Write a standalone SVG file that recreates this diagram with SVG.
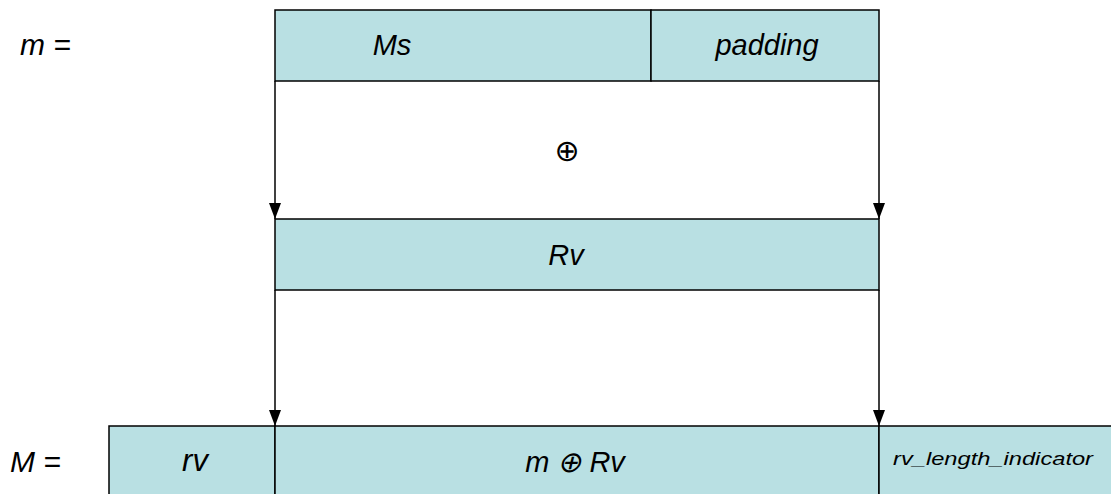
<svg xmlns="http://www.w3.org/2000/svg" width="1111" height="494" viewBox="0 0 1111 494">
<style>
.box{fill:#B9E0E3;stroke:#000;stroke-width:1.5}
.t{font-family:"Liberation Sans",Arial,sans-serif;font-style:italic;font-size:29px;fill:#000;text-anchor:middle}
.l{font-family:"Liberation Sans",Arial,sans-serif;font-style:italic;font-size:30px;fill:#000}
.c{stroke:#000;stroke-width:1.5;fill:none}
</style>
<defs>
<marker id="ah" markerWidth="16" markerHeight="12" refX="16" refY="6" orient="auto" markerUnits="userSpaceOnUse" viewBox="0 0 16 12">
<path d="M0,0 L16,6 L0,12 Z" fill="#000"/>
</marker>
</defs>
<rect width="1111" height="494" fill="#fff"/>
<text class="l" x="20" y="55">m =</text>
<text class="l" x="10" y="472">M =</text>
<g id="m">
<rect class="box" x="275" y="10" width="376" height="71"/>
<rect class="box" x="651" y="10" width="228" height="71"/>
<text class="t" x="392" y="55">Ms</text>
<text class="t" x="767" y="55">padding</text>
</g>
<g id="xor"><text x="567" y="161" text-anchor="middle" font-family="DejaVu Sans, sans-serif" font-size="30">⊕</text></g>
<g id="Rv">
<rect class="box" x="275" y="219" width="604" height="71"/>
<text class="t" x="566" y="265">Rv</text>
</g>
<g id="M">
<rect class="box" x="109" y="426" width="166" height="80"/>
<rect class="box" x="275" y="426" width="604" height="80"/>
<rect class="box" x="879" y="426" width="240" height="80"/>
<text class="t" x="195" y="471" style="font-size:31px">rv</text>
<text class="t" x="575" y="472">m ⊕ Rv</text>
<text x="893" y="465" font-family="'Liberation Sans',Arial,sans-serif" font-style="italic" font-size="19" textLength="200" lengthAdjust="spacingAndGlyphs">rv_length_indicator</text>
</g>
<g id="connectors">
<line class="c" x1="275" y1="81" x2="275" y2="219" marker-end="url(#ah)"/>
<line class="c" x1="879" y1="81" x2="879" y2="219" marker-end="url(#ah)"/>
<line class="c" x1="275" y1="290" x2="275" y2="426" marker-end="url(#ah)"/>
<line class="c" x1="879" y1="290" x2="879" y2="426" marker-end="url(#ah)"/>
</g>
</svg>
